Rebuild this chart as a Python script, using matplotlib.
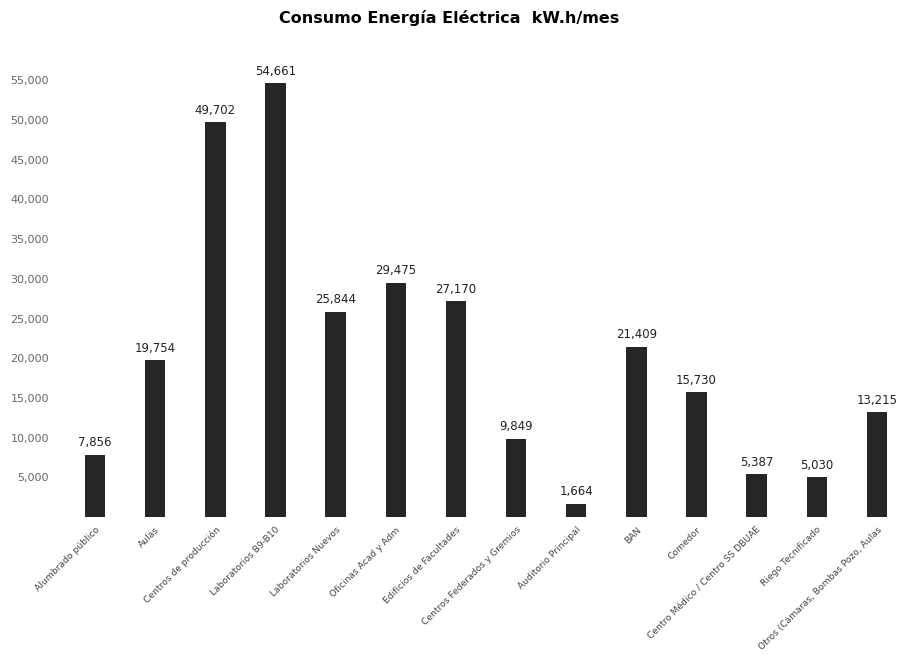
import numpy as np
import matplotlib.pyplot as plt

# data
categorias = ['Alumbrado público', 'Aulas', 'Centros de producción',
              'Laboratorios B9-B10', 'Laboratorios Nuevos', 'Oficinas Acad y Adm',
              'Edificios de Facultades', 'Centros Federados y Gremios',
              'Auditorio Principal', 'BAN', 'Comedor',
              'Centro Médico / Centro SS DBUAE', 'Riego Tecnificado',
              'Otros (Cámaras, Bombas Pozo, Aulas']
consumo = [7856, 19754, 49702, 54661, 25844, 29475, 27170, 9849,
           1664, 21409, 15730, 5387, 5030, 13215]
yticks = [5000, 10000, 15000, 20000, 25000, 30000, 35000, 40000,
          45000, 50000, 55000]

fig = plt.figure(figsize=(8.98, 6.63), dpi=100)
ax = fig.add_axes([0.067, 0.2202, 0.933, 0.6885])

x = np.arange(len(categorias))
ax.bar(x, consumo, width=0.34, color='#262626')

for xi, v in zip(x, consumo):
    ax.text(xi, v + 700, f'{v:,}', ha='center', va='bottom', fontsize=8.5, color='#222222')

ax.set_xlim(-0.58, 13.35)
ax.set_ylim(0, 57500)
ax.set_yticks(yticks)
ax.set_yticklabels([f'{t:,}' for t in yticks], fontsize=8, color='#666666')
ax.set_xticks(x)
ax.set_xticklabels(categorias, rotation=45, ha='right', rotation_mode='anchor',
                   fontsize=6.6, color='#444444')
ax.tick_params(axis='x', length=0, pad=6)
ax.tick_params(axis='y', length=0, pad=8)
for s in ax.spines.values():
    s.set_visible(False)

fig.suptitle('Consumo Energía Eléctrica  kW.h/mes', fontsize=11.5, fontweight='bold', y=0.985)

fig.savefig('out.png', dpi=100)
